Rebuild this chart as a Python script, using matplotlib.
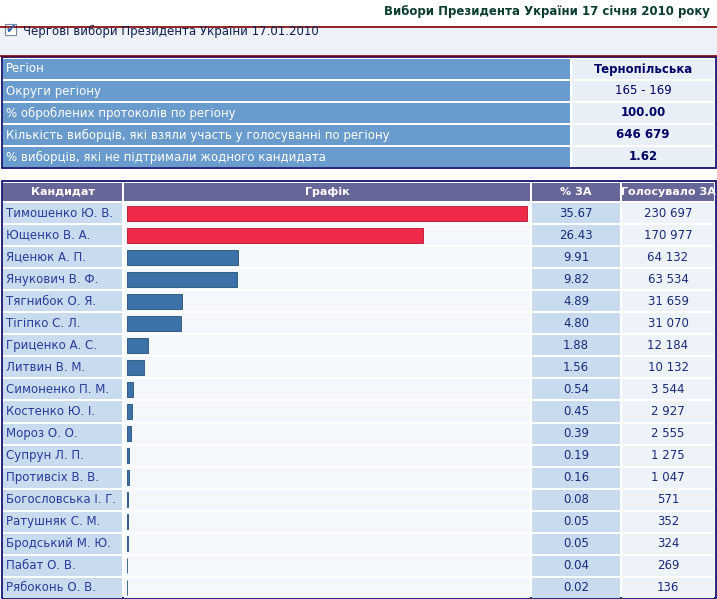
import matplotlib.pyplot as plt
from matplotlib.patches import Rectangle

# Дані
candidates = ["Тимошенко Ю. В.", "Ющенко В. А.", "Яценюк А. П.", "Янукович В. Ф.",
              "Тягнибок О. Я.", "Тігіпко С. Л.", "Гриценко А. С.", "Литвин В. М.",
              "Симоненко П. М.", "Костенко Ю. І.", "Мороз О. О.", "Супрун Л. П.",
              "Противсіх В. В.", "Богословська І. Г.", "Ратушняк С. М.", "Бродський М. Ю.",
              "Пабат О. В.", "Рябоконь О. В."]
percents = [35.67, 26.43, 9.91, 9.82, 4.89, 4.80, 1.88, 1.56, 0.54, 0.45, 0.39,
            0.19, 0.16, 0.08, 0.05, 0.05, 0.04, 0.02]
votes = ["230 697", "170 977", "64 132", "63 534", "31 659", "31 070", "12 184",
         "10 132", "3 544", "2 927", "2 555", "1 275", "1 047", "571", "352", "324",
         "269", "136"]
info_labels = ["Регіон", "Округи регіону", "% оброблених протоколів по регіону",
               "Кількість виборців, які взяли участь у голосуванні по регіону",
               "% виборців, які не підтримали жодного кандидата"]
info_values = ["Тернопільська", "165 - 169", "100.00", "646 679", "1.62"]

W, H = 717, 599
fig = plt.figure(figsize=(W / 100, H / 100), dpi=100)
ax = fig.add_axes([0, 0, 1, 1])
ax.set_xlim(0, W)
ax.set_ylim(H, 0)
ax.axis("off")

navy = "#000066"
# Заголовок
ax.text(710, 11, "Вибори Президента України 17 січня 2010 року", ha="right", va="center",
        fontsize=8.5, fontweight="bold", color="#0b3d2e")
ax.add_patch(Rectangle((0, 27), W, 28, color="#eef2f8", lw=0))
ax.plot([0, W], [26.5, 26.5], color="#800000", lw=1.2)
ax.plot([0, W], [55.5, 55.5], color="#800000", lw=1.2)
ax.add_patch(Rectangle((5, 24), 11, 11, fc="white", ec="#7a8aa6", lw=0.8))
ax.text(6, 29, "✔", fontsize=9, color="#2a5db0", va="center")
ax.text(23, 31, "Чергові вибори Президента України 17.01.2010", fontsize=8.5,
        color="#102050", va="center")

# Інформаційна таблиця
ax.add_patch(Rectangle((1.5, 57), 714, 111, fc="white", ec=navy, lw=1.2))
row_h = 22
for i, (lab, val) in enumerate(zip(info_labels, info_values)):
    y = 58 + i * row_h
    ax.add_patch(Rectangle((3, y + 1), 567, row_h - 2, fc="#6a9bcd", lw=0))
    ax.add_patch(Rectangle((572, y + 1), 142, row_h - 2, fc="#e9eff7", lw=0))
    ax.text(6, y + row_h / 2, lab, color="white", fontsize=8.5, va="center")
    ax.text(643, y + row_h / 2, val, color=navy, fontsize=8.5, va="center", ha="center",
            fontweight="normal" if i == 1 else "bold")

# Таблиця кандидатів
top = 181
ax.add_patch(Rectangle((1.5, top), 714, 417, fc="white", ec=navy, lw=1.2))
cols = [(3, 122), (124, 530), (532, 620), (622, 714)]
headers = ["Кандидат", "Графік", "% ЗА", "Голосувало ЗА"]
for (x0, x1), h in zip(cols, headers):
    ax.add_patch(Rectangle((x0, top + 2), x1 - x0, 18, fc="#666699", lw=0))
    ax.text((x0 + x1) / 2, top + 11, h, color="white", fontsize=8, fontweight="bold",
            ha="center", va="center")
rh = 22.05
y0 = 202
for i, (name, p, v) in enumerate(zip(candidates, percents, votes)):
    y = y0 + i * rh
    ax.add_patch(Rectangle((3, y + 1), 119, rh - 2, fc="#c9dbef", lw=0))
    ax.add_patch(Rectangle((124, y + 1), 406, rh - 2, fc="#f4f7fb", lw=0))
    ax.add_patch(Rectangle((532, y + 1), 88, rh - 2, fc="#c9dbef", lw=0))
    ax.add_patch(Rectangle((622, y + 1), 92, rh - 2, fc="#eef3f9", lw=0))
    ax.text(6, y + rh / 2, name, color="#2b3a9a", fontsize=8.5, va="center")
    ax.text(576, y + rh / 2, f"{p:.2f}", color="#1a2a7a", fontsize=8.5, va="center", ha="center")
    ax.text(668, y + rh / 2, v, color="#1a2a7a", fontsize=8.5, va="center", ha="center")

# Стовпчики
bx0, bx1 = 127, 530
bax = fig.add_axes([bx0 / W, 1 - (y0 + rh * len(candidates)) / H,
                    (bx1 - bx0) / W, rh * len(candidates) / H])
bax.set_xlim(0, 35.67 * (bx1 - bx0) / 400)
bax.set_ylim(len(candidates) - 0.5, -0.5)
bax.axis("off")
bar_colors = ["#ee2a4a" if i < 2 else "#3d72a8" for i in range(len(candidates))]
bax.barh(range(len(candidates)), percents, height=0.68, color=bar_colors,
         edgecolor=["#b8102c" if i < 2 else "#24507c" for i in range(len(candidates))], lw=0.6)

fig.savefig("out.png", dpi=100)
